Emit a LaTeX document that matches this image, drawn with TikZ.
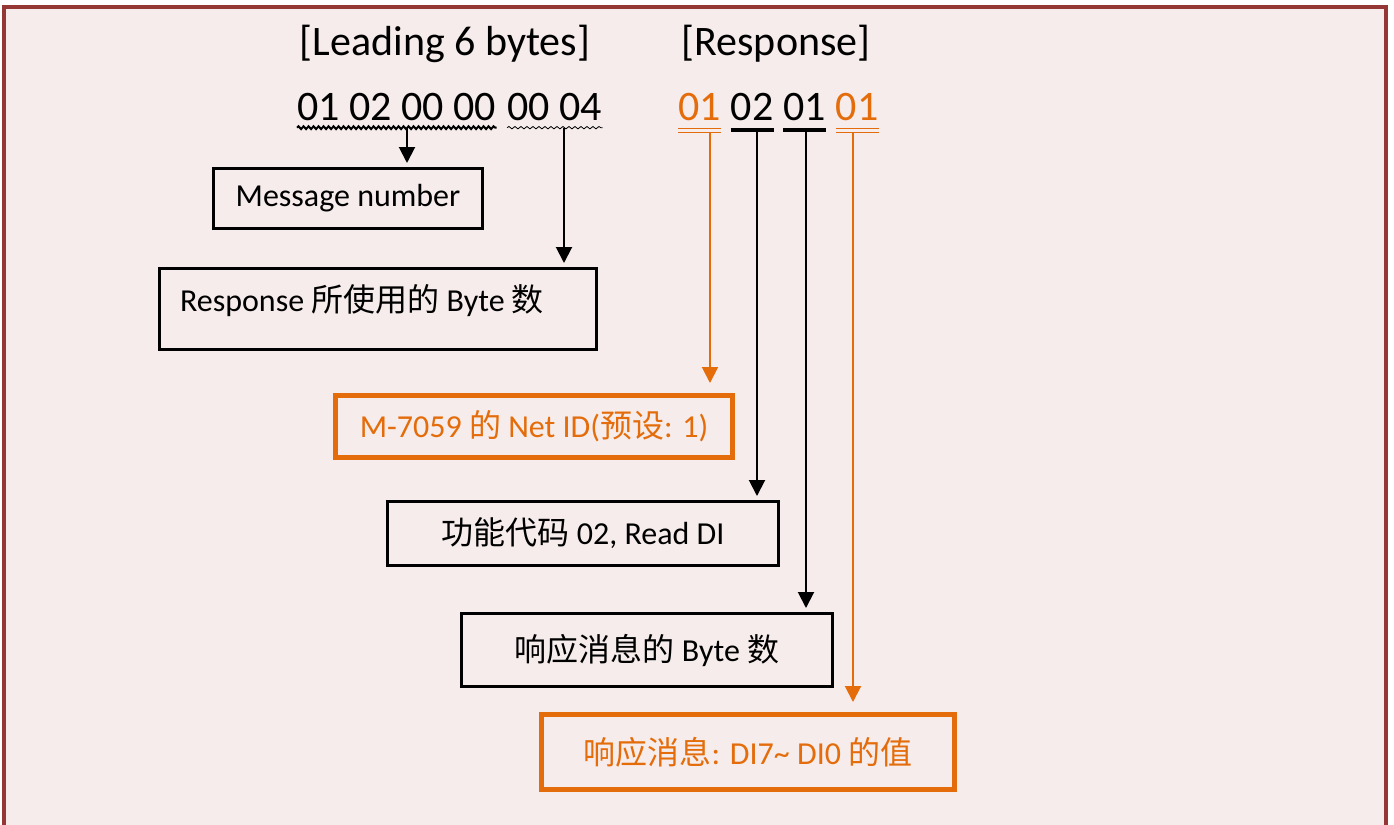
\documentclass[tikz,border=0pt]{standalone}
\usepackage{fontspec}
\setmainfont{Carlito}
\newfontfamily\cjk{Noto Sans CJK SC}
\usetikzlibrary{arrows.meta,decorations.pathmorphing,positioning}
\definecolor{frame}{HTML}{953735}
\definecolor{paper}{HTML}{F5ECEB}
\definecolor{accent}{HTML}{E46C0A}
\tikzset{>={Triangle[length=8pt,width=8pt]}}

\begin{document}
\begin{tikzpicture}[x=0.5pt, y=-0.5pt,
    box/.style={draw, line width=1.5pt, inner sep=0pt, font=\fontsize{16}{19}\selectfont},
    obox/.style={box, draw=accent, text=accent, line width=2.5pt},
    hdr/.style={inner sep=0pt, font=\fontsize{21}{25}\selectfont},
    wavy/.style={decorate, decoration={snake, segment length=2.5pt, amplitude=0.7pt}, line width=1pt},
    thinwavy/.style={decorate, decoration={snake, segment length=3pt, amplitude=0.6pt}, line width=0.4pt},
    link/.style={->, line width=1pt, shorten >=2pt},
    olink/.style={link, accent, shorten >=5pt}]
      \useasboundingbox (0,0) rectangle (1394,825);
      \fill[white] (0,0) rectangle (1394,825);
      \fill[paper] (4,7) rectangle (1386,835);
      \draw[frame, line width=2.3pt] (4,835) -- (4,7) -- (1386,7) -- (1386,835);
      % headers
      \node[hdr, anchor=base] (h0) at (445,55) {[Leading 6 bytes]};
      \node[hdr, anchor=base] (h1) at (776,55) {[Response]};
      \node[hdr, anchor=base west] (n0) at (297,120) {01 02 00 00};
      \node[hdr, right of=n0, node distance=79pt] (n1) {00 04};
      \node[hdr, anchor=base west, text=accent] (r1) at (678,120) {01};
      \node[hdr, right of=r1, node distance=26.25pt] (r2) {02};
      \node[hdr, right of=r2, node distance=26.25pt] (r3) {01};
      \node[hdr, right of=r3, node distance=26.25pt, text=accent] (r4) {01};
      % underlines
      \draw[wavy] ([yshift=-3.5pt]n0.south west) -- ([yshift=-3.5pt]n0.south east);
      \draw[thinwavy] ([yshift=-3.5pt]n1.south west) -- ([yshift=-3.5pt]n1.south east);
      \draw[accent, line width=0.7pt] ([yshift=-4pt]r1.south west) -- ([yshift=-4pt]r1.south east)
        ([yshift=-6pt]r1.south west) -- ([yshift=-6pt]r1.south east);
      \draw[accent, line width=0.7pt] ([yshift=-4pt]r4.south west) -- ([yshift=-4pt]r4.south east)
        ([yshift=-6pt]r4.south west) -- ([yshift=-6pt]r4.south east);
      \draw[line width=2pt] ([yshift=-4.75pt]r2.south west) -- ([yshift=-4.75pt]r2.south east);
      \draw[line width=2pt] ([yshift=-4.75pt]r3.south west) -- ([yshift=-4.75pt]r3.south east);
      \coordinate (aux1) at (407,128);
      \coordinate (aux2) at (564,128);
      \coordinate (aux3) at (710,132);
      \coordinate (aux4) at (757,131);
      \coordinate (aux5) at (806,131);
      \coordinate (aux6) at (853,132);
      % boxes
      \node[box, minimum width=134.5pt, minimum height=30pt] (m0) at (348,198.5) {Message number};
      \node[box, minimum width=218.5pt, minimum height=40.5pt] (m1) at (378,309) {Response {\cjk 所使用的} Byte {\cjk 数}\hspace{16pt}\rule[-11.5pt]{0pt}{11.5pt}};
      \node[obox, minimum width=198.5pt, minimum height=31pt] (m2) at (534,426.5) {M-7059 {\cjk 的} Net ID({\cjk 预设}: 1)};
      \node[box, minimum width=195.5pt, minimum height=32pt] (m3) at (583,533.5) {{\cjk 功能代码} 02, Read DI};
      \node[box, minimum width=185.5pt, minimum height=36.5pt] (m4) at (647,650) {{\cjk 响应消息的} Byte {\cjk 数}};
      \node[obox, minimum width=206.5pt, minimum height=37.5pt] (m5) at (748,752) {{\cjk 响应消息}: DI7\textasciitilde{} DI0 {\cjk 的值}};
      % arrows
      \draw[link] (aux1) -- (aux1 |- m0.north);
      \draw[link] (aux2) -- (aux2 |- m1.north);
      \draw[olink] (aux3) -- (aux3 |- m2.north);
      \draw[link] (aux4) -- (aux4 |- m3.north);
      \draw[link] (aux5) -- (aux5 |- m4.north);
      \draw[olink] (aux6) -- (aux6 |- m5.north);
    \end{tikzpicture}
\end{document}
